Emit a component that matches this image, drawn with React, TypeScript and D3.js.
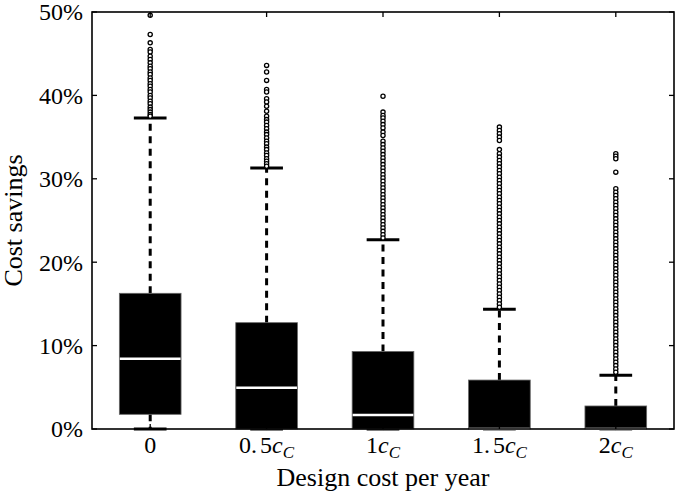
import React from "react";
import * as d3 from "d3";

const categories = ["0", "0.5", "1", "1.5", "2"];
const q1 = [1.76, 0, 0, 0, 0];
const median = [8.43, 4.95, 1.68, 0, 0];
const q3 = [16.27, 12.75, 9.3, 5.87, 2.76];
const whiskerLow = [0, 0, 0, 0, 0];
const whiskerHigh = [37.3, 31.3, 22.7, 14.35, 6.43];

const outliers0 = [49.6, 47.3, 46.3, 45.5, 45.2, 44.7, 44.3, 43.9, 43.5, 43.2, 42.8, 42.5, 42.1, 41.8, 41.4, 41.1, 40.7, 40.4, 40.0, 39.7, 39.3, 39.0, 38.6, 38.3, 38.0, 37.7, 37.5];
const outliers1 = [43.6, 42.8, 41.8, 40.7, 40.4, 39.6, 39.2, 38.7, 38.1, 37.5, 37.1, 36.8, 36.4, 36.0, 35.6, 35.3, 34.9, 34.5, 34.2, 33.8, 33.5, 33.1, 32.8, 32.4, 32.1, 31.8, 31.5];
const outliers2 = [39.9, 38.0, 37.6, 37.3, 36.9, 36.5, 36.1, 35.6, 35.2, 34.5, 34.1, 33.7, 33.3, 32.9, 32.5, 32.1, 31.7, 31.3, 30.9, 30.5, 30.1, 29.7, 29.3, 28.9, 28.5, 28.1, 27.7, 27.3, 26.9, 26.5, 26.1, 25.7, 25.3, 24.9, 24.5, 24.1, 23.7, 23.3, 22.9];
const outliers3 = [36.2, 35.8, 35.4, 35.0, 34.6, 33.5, 33.0, 32.6, 32.2, 31.8, 31.4, 31.0, 30.6, 30.2, 29.8, 29.4, 29.0, 28.6, 28.2, 27.8, 27.4, 27.0, 26.6, 26.2, 25.8, 25.4, 25.0, 24.6, 24.2, 23.8, 23.4, 23.0, 22.6, 22.2, 21.8, 21.4, 21.0, 20.6, 20.2, 19.8, 19.4, 19.0, 18.6, 18.2, 17.8, 17.4, 17.0, 16.6, 16.2, 15.8, 15.4, 15.0, 14.6];
const outliers4 = [33.0, 32.7, 32.4, 30.8, 28.8, 28.4, 28.0, 27.6, 27.2, 26.8, 26.4, 26.0, 25.6, 25.2, 24.8, 24.4, 24.0, 23.6, 23.2, 22.8, 22.4, 22.0, 21.6, 21.2, 20.8, 20.4, 20.0, 19.6, 19.2, 18.8, 18.4, 18.0, 17.6, 17.2, 16.8, 16.4, 16.0, 15.6, 15.2, 14.8, 14.4, 14.0, 13.6, 13.2, 12.8, 12.4, 12.0, 11.6, 11.2, 10.8, 10.4, 10.0, 9.6, 9.2, 8.8, 8.4, 8.0, 7.6, 7.2, 6.8];
const outliers = [outliers0, outliers1, outliers2, outliers3, outliers4];

const yTicks = [0, 10, 20, 30, 40, 50];

const W = 677;
const H = 491;
const M = { left: 92, right: 3, top: 12, bottom: 62 };
const FONT = "'Liberation Serif', 'DejaVu Serif', serif";

export default function App() {
  const x = d3
    .scaleBand<string>()
    .domain(categories)
    .range([M.left, W - M.right])
    .paddingInner(0)
    .paddingOuter(0);
  const y = d3.scaleLinear().domain([0, 50]).range([H - M.bottom, M.top]);
  const bw = x.bandwidth() * 0.53;
  const capW = bw * 0.53;
  const x0 = M.left;
  const x1 = W - M.right;
  const y0 = H - M.bottom;
  const y1 = M.top;
  const tick = 5;

  return (
    <svg width={W} height={H} style={{ position: "absolute", left: 0, top: 0 }}>
      <rect x={0} y={0} width={W} height={H} fill="#fff" />
      {categories.map((c, i) => {
        const cx = (x(c) as number) + x.bandwidth() / 2;
        return (
          <g key={c}>
            <line x1={cx} x2={cx} y1={y(q3[i])} y2={y(whiskerHigh[i])} stroke="#000" strokeWidth={3} strokeDasharray="7,5.5" />
            <line x1={cx} x2={cx} y1={y(q1[i])} y2={y(whiskerLow[i])} stroke="#000" strokeWidth={3} strokeDasharray="7,5.5" />
            <line x1={cx - capW / 2} x2={cx + capW / 2} y1={y(whiskerHigh[i])} y2={y(whiskerHigh[i])} stroke="#000" strokeWidth={3} />
            <line x1={cx - capW / 2} x2={cx + capW / 2} y1={y(whiskerLow[i])} y2={y(whiskerLow[i])} stroke="#000" strokeWidth={3} />
            <rect x={cx - bw / 2} y={y(q3[i])} width={bw} height={y(q1[i]) - y(q3[i])} fill="#000" stroke="#666" strokeWidth={0.8} />
            <line x1={cx - bw / 2 + 0.5} x2={cx + bw / 2 - 0.5} y1={y(median[i])} y2={y(median[i])} stroke="#fff" strokeWidth={2.5} />
            {outliers[i].map((v, k) => (
              <circle key={k} cx={cx} cy={y(v)} r={2.1} fill="#fff" stroke="#000" strokeWidth={1.3} />
            ))}
          </g>
        );
      })}
      <rect x={x0} y={y1} width={x1 - x0} height={y0 - y1} fill="none" stroke="#000" strokeWidth={1.6} />
      {yTicks.map((t) => (
        <g key={t}>
          <line x1={x0} x2={x0 + tick} y1={y(t)} y2={y(t)} stroke="#000" strokeWidth={1.3} />
          <line x1={x1} x2={x1 - tick} y1={y(t)} y2={y(t)} stroke="#000" strokeWidth={1.3} />
          <text x={x0 - 9} y={y(t)} dy="0.35em" textAnchor="end" fontFamily={FONT} fontSize={24}>
            {t}%
          </text>
        </g>
      ))}
      {categories.map((c, i) => {
        const cx = (x(c) as number) + x.bandwidth() / 2;
        return (
          <g key={"t" + c}>
            <line x1={cx} x2={cx} y1={y0} y2={y0 - tick} stroke="#000" strokeWidth={1.3} />
            <line x1={cx} x2={cx} y1={y1} y2={y1 + tick} stroke="#000" strokeWidth={1.3} />
            <text x={cx} y={y0 + 24} textAnchor="middle" fontFamily={FONT} fontSize={24}>
              {i === 0 ? (
                "0"
              ) : (
                <>
                  <tspan>{c === "0.5" ? "0." : c === "1.5" ? "1." : c}</tspan>
                  {c.includes(".") ? <tspan dx={3}>5</tspan> : null}
                  <tspan fontStyle="italic">c</tspan>
                  <tspan fontStyle="italic" fontSize={17} dy={5}>C</tspan>
                </>
              )}
            </text>
          </g>
        );
      })}
      <text x={(x0 + x1) / 2} y={H - 5} textAnchor="middle" fontFamily={FONT} fontSize={26}>
        Design cost per year
      </text>
      <text transform={`translate(22,${(y0 + y1) / 2}) rotate(-90)`} textAnchor="middle" fontFamily={FONT} fontSize={26}>
        Cost savings
      </text>
    </svg>
  );
}
